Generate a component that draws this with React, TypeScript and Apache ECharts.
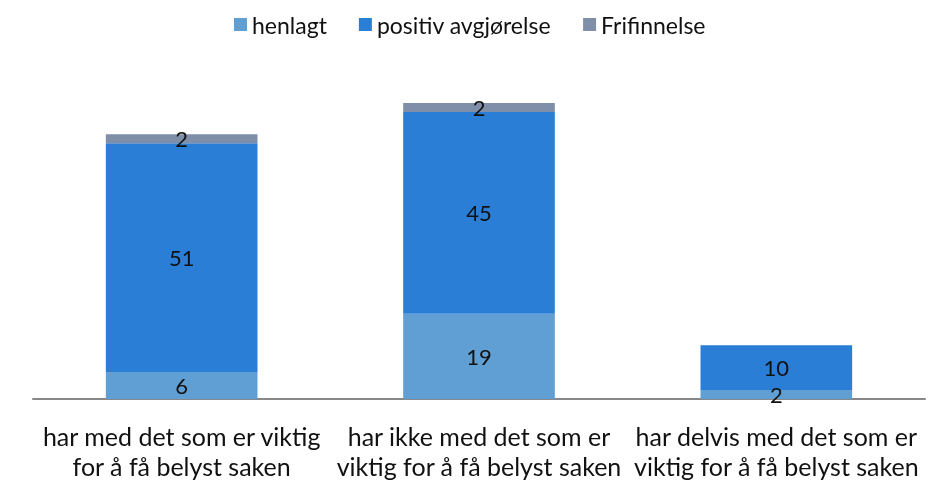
import React, { useEffect, useRef } from "react";
import * as echarts from "echarts";

const categories = [
  "har med det som er viktig\nfor å få belyst saken",
  "har ikke med det som er\nviktig for å få belyst saken",
  "har delvis med det som er\nviktig for å få belyst saken",
];
const henlagt = [6, 19, 2];
const positiv = [51, 45, 10];
const frifinnelse = [2, 2, 0];

export default function App() {
  const ref = useRef<HTMLDivElement>(null);
  useEffect(() => {
    if (!ref.current) return;
    const chart = echarts.init(ref.current, undefined, { renderer: "svg" });
    const font = "Lato, 'Open Sans', sans-serif";
    const label = {
      show: true,
      position: "inside",
      color: "#111",
      fontSize: 22,
      fontFamily: font,
      formatter: (p: any) => (p.value ? String(p.value) : ""),
    };
    chart.setOption({
      animation: false,
      legend: {
        top: 8,
        left: 229,
        itemWidth: 13,
        itemHeight: 13,
        itemGap: 32,
        icon: "rect",
        textStyle: { fontSize: 23, fontFamily: font, color: "#111" },
        data: ["henlagt", "positiv avgjørelse", "Frifinnelse"],
      },
      grid: { left: 33, right: 18, top: 85, bottom: 94, containLabel: false },
      xAxis: {
        type: "category",
        data: categories,
        axisLine: { lineStyle: { color: "#888", width: 2 } },
        axisTick: { show: false },
        axisLabel: {
          fontSize: 25,
          fontFamily: font,
          color: "#111",
          lineHeight: 30,
          margin: 22,
          interval: 0,
        },
      },
      yAxis: {
        type: "value",
        min: 0,
        max: 70,
        show: false,
        splitLine: { show: false },
      },
      series: [
        {
          name: "henlagt",
          type: "bar",
          stack: "a",
          barWidth: "51%",
          data: henlagt,
          itemStyle: { color: "#5F9FD4" },
          label,
        },
        {
          name: "positiv avgjørelse",
          type: "bar",
          stack: "a",
          data: positiv,
          itemStyle: { color: "#2A7ED6" },
          label,
        },
        {
          name: "Frifinnelse",
          type: "bar",
          stack: "a",
          data: frifinnelse,
          itemStyle: { color: "#7F8FA9" },
          label,
        },
      ],
    });
    return () => chart.dispose();
  }, []);
  return (
    <div
      ref={ref}
      style={{ position: "fixed", left: 0, top: 0, width: 943, height: 493 }}
    />
  );
}
